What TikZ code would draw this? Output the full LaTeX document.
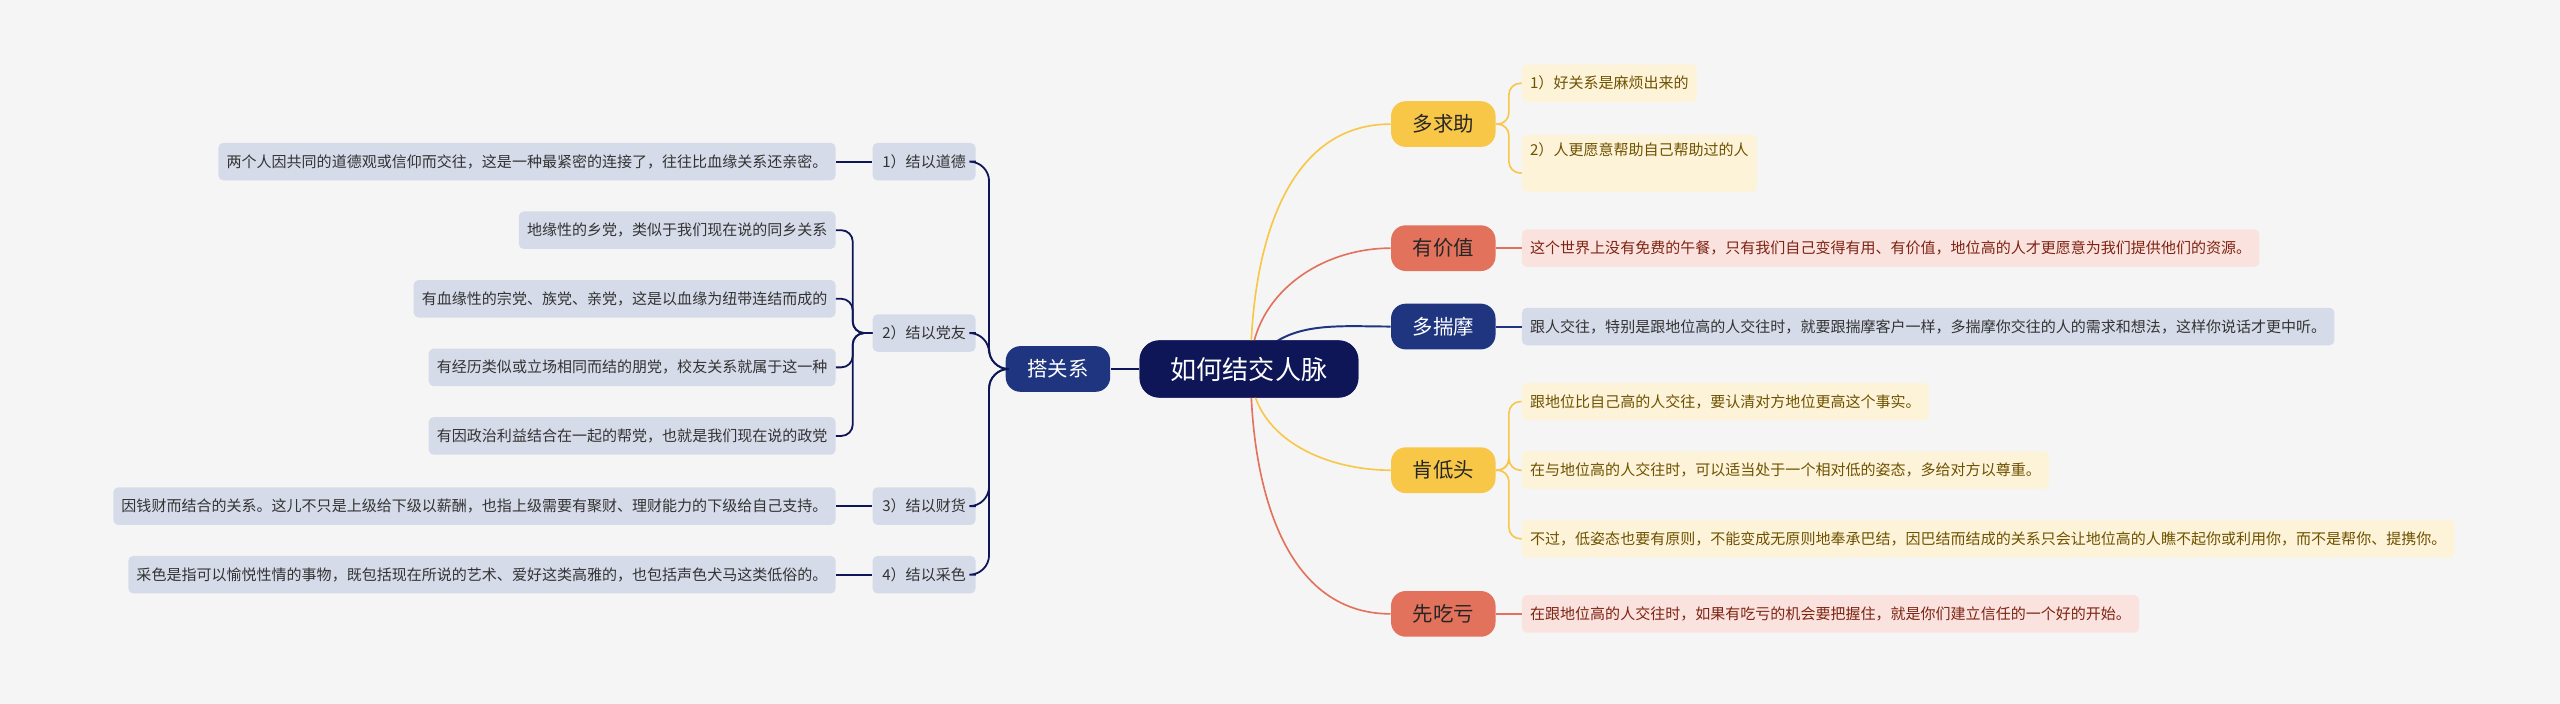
\documentclass[tikz,border=0pt]{standalone}
\usepackage{fontspec}
\setmainfont{Noto Sans CJK SC}
\definecolor{bg}{HTML}{F5F5F5}
\definecolor{navy}{HTML}{0E1657}
\definecolor{dblue}{HTML}{1F3580}
\definecolor{lblue}{HTML}{D6DBEA}
\definecolor{yel}{HTML}{F8C748}
\definecolor{lyel}{HTML}{FDF3D9}
\definecolor{tyel}{HTML}{6E5200}
\definecolor{red}{HTML}{E2725C}
\definecolor{lred}{HTML}{FAE3DE}
\definecolor{tred}{HTML}{7E2413}
\tikzset{
  leaf/.style={rounded corners=3pt,inner xsep=5pt,minimum height=23pt,font=\fontsize{9.2}{11}\selectfont},
  lleaf/.style={leaf,fill=lblue,text=black!80,anchor=east},
  sub/.style={leaf,fill=lblue,text=black!80,minimum width=63pt},
  yleaf/.style={leaf,fill=lyel,text=tyel,anchor=west},
  rleaf/.style={leaf,fill=lred,text=tred,anchor=west},
  bleaf/.style={leaf,fill=lblue,text=black!80,anchor=west},
  mainn/.style={rounded corners=9pt,minimum width=64pt,minimum height=28pt,font=\fontsize{12.5}{14}\selectfont},
  lnav/.style={navy,line width=1.1pt,rounded corners=7pt},
  cent/.style={rounded corners=12pt,fill=navy,text=white,minimum width=134pt,minimum height=35pt,font=\fontsize{16}{18}\selectfont},
}
\begin{document}
\begin{tikzpicture}[x=1pt,y=-1pt]
\fill[bg] (0,0) rectangle (1568,431);
\useasboundingbox (0,0) rectangle (1568,431);
% nodes
\node[cent] (c) at (765,226) {如何结交人脉};
\coordinate (hub) at (766,226);
\node[mainn,fill=dblue,text=white] (d) at (648,226) {搭关系};
\node[mainn,fill=yel,text=black!85] (m1) at (884,76) {多求助};
\node[mainn,fill=red,text=black!85] (m2) at (884,152) {有价值};
\node[mainn,fill=dblue,text=white] (m3) at (884,200) {多揣摩};
\node[mainn,fill=yel,text=black!85] (m4) at (884,288) {肯低头};
\node[mainn,fill=red,text=black!85] (m5) at (884,376) {先吃亏};
% left sub
\node[sub] (s1) at (566,99) {1）结以道德};
\node[sub] (s2) at (566,204) {2）结以党友};
\node[sub] (s3) at (566,310) {3）结以财货};
\node[sub] (s4) at (566,352) {4）结以采色};
% left leaves
\node[lleaf] (a1) at (512,99) {两个人因共同的道德观或信仰而交往，这是一种最紧密的连接了，往往比血缘关系还亲密。};
\node[lleaf] (b1) at (512,141) {地缘性的乡党，类似于我们现在说的同乡关系};
\node[lleaf] (b2) at (512,183) {有血缘性的宗党、族党、亲党，这是以血缘为纽带连结而成的\hspace{8pt}};
\node[lleaf] (b3) at (512,225) {有经历类似或立场相同而结的朋党，校友关系就属于这一种};
\node[lleaf] (b4) at (512,267) {有因政治利益结合在一起的帮党，也就是我们现在说的政党\hspace{6pt}};
\node[lleaf] (c1) at (512,310) {因钱财而结合的关系。这儿不只是上级给下级以薪酬，也指上级需要有聚财、理财能力的下级给自己支持。};
\node[lleaf] (e1) at (512,352) {采色是指可以愉悦性情的事物，既包括现在所说的艺术、爱好这类高雅的，也包括声色犬马这类低俗的。\hspace{22pt}};
% right leaves
\node[yleaf] (y1) at (932,51) {1）好关系是麻烦出来的};
\node[yleaf,minimum height=35pt,text depth=18pt] (y2) at (932,100) {2）人更愿意帮助自己帮助过的人};
\node[rleaf] (r1) at (932,152) {这个世界上没有免费的午餐，只有我们自己变得有用、有价值，地位高的人才更愿意为我们提供他们的资源。};
\node[bleaf] (u1) at (932,200) {跟人交往，特别是跟地位高的人交往时，就要跟揣摩客户一样，多揣摩你交往的人的需求和想法，这样你说话才更中听。};
\node[yleaf] (k1) at (932,246) {跟地位比自己高的人交往，要认清对方地位更高这个事实。};
\node[yleaf] (k2) at (932,288) {在与地位高的人交往时，可以适当处于一个相对低的姿态，多给对方以尊重。};
\node[yleaf] (k3) at (932,330) {不过，低姿态也要有原则，不能变成无原则地奉承巴结，因巴结而结成的关系只会让地位高的人瞧不起你或利用你，而不是帮你、提携你。};
\node[rleaf] (p1) at (932,376) {在跟地位高的人交往时，如果有吃亏的机会要把握住，就是你们建立信任的一个好的开始。};
% connectors
\draw[navy,line width=1.2pt] (c.west) -- (d.east);
\draw[yel,line width=1pt] (hub) to[out=90,in=180] (m1.west);
\draw[red,line width=1pt] (hub) to[out=90,in=180] (m2.west);
\draw[dblue,line width=1.2pt] (hub) to[out=60,in=180] (m3.west);
\draw[yel,line width=1pt] (hub) to[out=-90,in=180] (m4.west);
\draw[red,line width=1pt] (hub) to[out=-90,in=180] (m5.west);
\foreach \s in {s1,s2,s3,s4}{\draw[lnav,rounded corners=12pt] (d.west) -- ++(-10,0) |- (\s.east);}
\draw[lnav] (s1.west) -- (a1.east);
\draw[lnav] (s3.west) -- (c1.east);
\draw[lnav] (s4.west) -- (e1.east);
\foreach \b in {b1,b2,b3,b4}{\draw[lnav] (s2.west) -- ++(-12,0) |- (\b.east);}
\draw[yel,line width=1pt,rounded corners=7pt] (m1.east) -- ++(8,0) |- (y1.west);
\draw[yel,line width=1pt,rounded corners=7pt] (m1.east) -- ++(8,0) |- ([yshift=-6pt]y2.west);
\draw[red,line width=1pt] (m2.east) -- (r1.west);
\draw[dblue,line width=1.2pt] (m3.east) -- (u1.west);
\foreach \k in {k1,k2,k3}{\draw[yel,line width=1pt,rounded corners=7pt] (m4.east) -- ++(8,0) |- (\k.west);}
\draw[red,line width=1pt] (m5.east) -- (p1.west);
% redraw central node on top of hub lines
\node[cent] at (765,226) {如何结交人脉};
\end{tikzpicture}
\end{document}
